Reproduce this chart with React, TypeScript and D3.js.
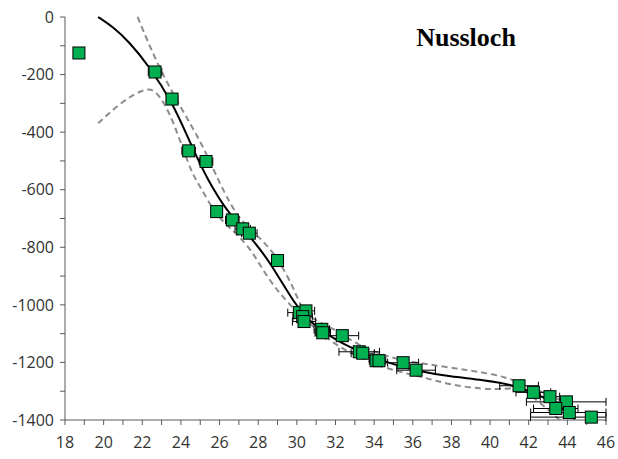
import * as d3 from 'd3';

// sample ages (x) and depths (y) with horizontal errors
const ageX = [18.72, 22.66, 23.54, 24.4, 25.3, 25.85, 26.66, 27.2, 27.54, 29.0, 30.13, 30.47, 30.3, 30.37, 31.29, 31.34, 32.35, 33.23, 33.41, 34.1, 34.25, 35.5, 36.17, 41.5, 42.24, 43.1, 43.95, 43.4, 44.1, 45.24];
const depthY = [-125, -191, -285, -465, -502, -676, -705, -736, -751, -846, -1027, -1021, -1041, -1058, -1085, -1097, -1107, -1163, -1168, -1194, -1194, -1201, -1227, -1281, -1304, -1319, -1337, -1360, -1374, -1390];
const ageErr = [0.15, 0.35, 0.3, 0.35, 0.35, 0.25, 0.35, 0.4, 0.4, 0.3, 0.6, 0.45, 0.5, 0.6, 0.4, 0.4, 0.85, 1.05, 0.6, 0.35, 0.35, 0.8, 1.0, 1.0, 0.9, 0.5, 2.07, 1.15, 2.0, 3.15];

// fitted model
const fitX = [19.71, 20.5, 21.3, 22.31, 23.6, 24.56, 25.38, 26.45, 27.58, 28.61, 29.9, 30.77, 31.72, 33.0, 34.65, 36.38, 37.93, 39.65, 41.2, 42.24, 43.1, 43.79, 44.4];
const fitY = [0, -35, -85, -167, -300, -450, -566, -682, -763, -850, -1000, -1064, -1110, -1157, -1201, -1232, -1249, -1261, -1278, -1307, -1330, -1365, -1397];

// confidence band
const upperX = [21.76, 22.75, 23.95, 24.99, 25.93, 26.45, 27.06, 28.0, 28.87, 29.9, 30.25, 31.03, 32.07, 33.1, 34.82, 36.6, 38.79, 40.35, 41.2, 42.24, 43.28, 43.97, 44.4];
const upperY = [0, -161, -311, -427, -566, -636, -705, -763, -821, -948, -1018, -1058, -1087, -1139, -1185, -1205, -1226, -1243, -1261, -1290, -1319, -1342, -1392];
const lowerX = [19.72, 21.0, 22.23, 22.75, 23.35, 23.95, 24.56, 25.0, 25.76, 26.45, 27.58, 28.52, 29.56, 30.08, 30.85, 31.89, 33.1, 34.82, 36.6, 37.93, 39.65, 40.86, 41.55, 42.07, 42.93, 43.6];
const lowerY = [-369, -290, -244, -259, -323, -427, -543, -589, -682, -728, -798, -913, -994, -1029, -1076, -1134, -1180, -1226, -1252, -1278, -1293, -1293, -1284, -1313, -1359, -1400];

const xTicks = d3.range(18, 47, 2);
const xMinor = d3.range(18, 47, 1);
const yTicks = d3.range(-1400, 1, 200);
const yMinor = d3.range(-1400, 1, 100);

const W = 618;
const H = 459;
const left = 65, right = 606, top = 17, bottom = 420;
const axisColor = '#595959';
const labelFont = '"Open Sans", "Noto Sans", sans-serif';

export default function App() {
  const x = d3.scaleLinear().domain([18, 46]).range([left, right]);
  const y = d3.scaleLinear().domain([-1400, 0]).range([bottom, top]);

  const line = d3.line<[number, number]>()
    .x(d => x(d[0]))
    .y(d => y(d[1]))
    .curve(d3.curveBasis);

  const fit = fitX.map((v, i) => [v, fitY[i]] as [number, number]);
  const upper = upperX.map((v, i) => [v, upperY[i]] as [number, number]);
  const lower = lowerX.map((v, i) => [v, lowerY[i]] as [number, number]);

  const pts = ageX.map((v, i) => ({ x: v, y: depthY[i], e: ageErr[i] }));
  const clampX = (v: number) => Math.max(18, Math.min(46, v));

  return (
    <svg width={W} height={H} style={{ position: 'absolute', left: 0, top: 0, background: '#fff' }}>
      {/* axes */}
      <line x1={left} x2={left} y1={top} y2={bottom} stroke={axisColor} strokeWidth={1} />
      <line x1={left} x2={right} y1={bottom} y2={bottom} stroke={axisColor} strokeWidth={1} />
      {yMinor.map(t => (
        <line key={'ym' + t} x1={left - 5} x2={left} y1={y(t)} y2={y(t)} stroke={axisColor} />
      ))}
      {xMinor.map(t => (
        <line key={'xm' + t} x1={x(t)} x2={x(t)} y1={bottom} y2={bottom + 5} stroke={axisColor} />
      ))}
      {yTicks.map(t => (
        <text key={'yl' + t} x={left - 11} y={y(t)} dy="0.36em" textAnchor="end"
          fontFamily={labelFont} fontSize={16} fill="#333">{String(t)}</text>
      ))}
      {xTicks.map(t => (
        <text key={'xl' + t} x={x(t)} y={448} textAnchor="middle"
          fontFamily={labelFont} fontSize={16} fill="#333">{String(t)}</text>
      ))}

      {/* band and fit */}
      <path d={line(upper) || ''} fill="none" stroke="#8c8c8c" strokeWidth={2} strokeDasharray="6,4" />
      <path d={line(lower) || ''} fill="none" stroke="#8c8c8c" strokeWidth={2} strokeDasharray="6,4" />
      <path d={line(fit) || ''} fill="none" stroke="#000" strokeWidth={2} />

      {/* error bars */}
      {pts.map((p, i) => {
        const x0 = x(clampX(p.x - p.e));
        const x1 = x(clampX(p.x + p.e));
        const cy = y(p.y);
        return (
          <g key={'e' + i} stroke="#000" strokeWidth={1}>
            <line x1={x0} x2={x1} y1={cy} y2={cy} />
            <line x1={x0} x2={x0} y1={cy - 4} y2={cy + 4} />
            <line x1={x1} x2={x1} y1={cy - 4} y2={cy + 4} />
          </g>
        );
      })}

      {/* samples */}
      {pts.map((p, i) => (
        <rect key={'p' + i} x={x(p.x) - 6} y={y(p.y) - 6} width={12} height={12}
          fill="#00b050" stroke="#000" strokeWidth={1} />
      ))}

      <text x={466} y={46} textAnchor="middle" fontFamily='"Liberation Serif", "Times New Roman", serif'
        fontWeight="bold" fontSize={26} fill="#000">Nussloch</text>
    </svg>
  );
}
